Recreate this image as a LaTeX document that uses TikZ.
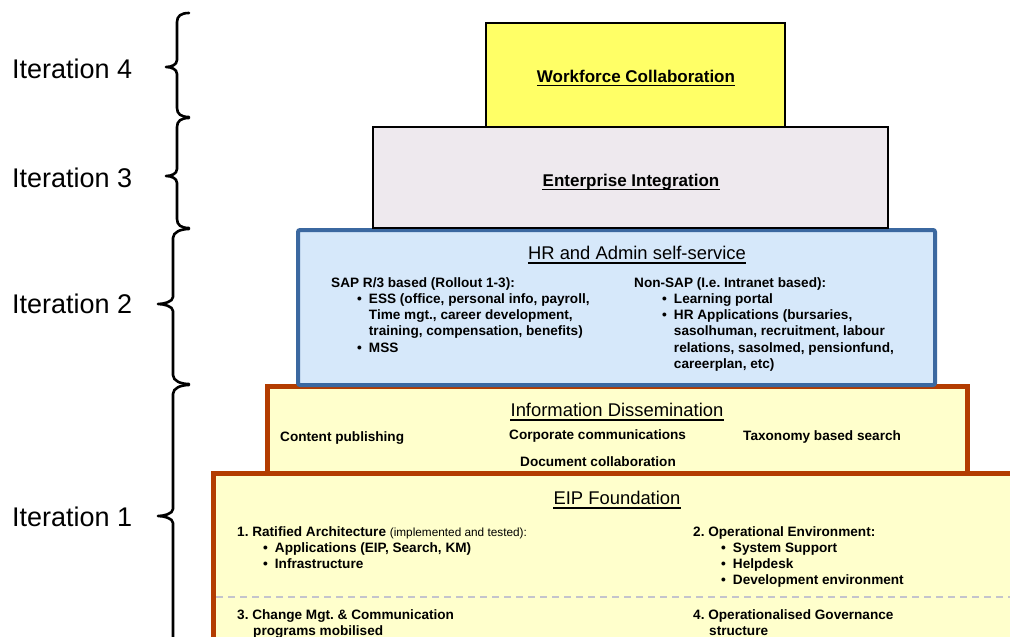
\documentclass[tikz,border=0pt]{standalone}
\usepackage{fontspec}
\setmainfont{Liberation Sans}
\usepackage{array}
\frenchspacing
\definecolor{wfyellow}{HTML}{FFFF66}
\definecolor{entgray}{HTML}{EEE9EE}
\definecolor{hrblue}{HTML}{D6E8FA}
\definecolor{hrborder}{HTML}{3B68A0}
\definecolor{eipfill}{HTML}{FFFFCC}
\definecolor{rust}{HTML}{B33C00}
\definecolor{dashgray}{HTML}{C4C4CC}
\newcommand\itbrace[5]{% vertical x, tip x, top y, tip y, bottom y
  \draw[bracestyle] (189,#3) .. controls (181,#3) and (#1,#3+3) .. (#1,#3+9)
    -- (#1,#4-7) .. controls (#1,#4-2) and (#2+5,#4) .. (#2,#4)
    .. controls (#2+5,#4) and (#1,#4+2) .. (#1,#4+7)
    -- (#1,#5-9) .. controls (#1,#5-3) and (181,#5) .. (189,#5);}
\tikzset{
  bracestyle/.style={line width=2.6pt, black, line cap=round, line join=round},
  iterlabel/.style={font=\fontsize{27}{31}\selectfont, anchor=west, inner sep=0pt},
  rtitle/.style={font=\fontsize{18.4}{22}\selectfont, anchor=base, inner sep=0pt},
  btitle/.style={font=\bfseries\fontsize{17}{20}\selectfont, anchor=base, inner sep=0pt},
  body/.style={font=\bfseries\fontsize{13.6}{16.3}\selectfont, anchor=base west, inner sep=0pt},
  uline/.style={line width=1.8pt, black},
  rustbox/.style={draw=rust, fill=eipfill, line width=5pt},
}
\begin{document}
\begin{tikzpicture}[x=1pt,y=-1pt]
\useasboundingbox (0,0) rectangle (1010,637);
\clip (0,0) rectangle (1010,637);

% boxes, back to front
\draw[rustbox] (213.5,473.5) rectangle (1025,660);
\draw[dashgray, line width=2pt, dash pattern=on 7pt off 5pt] (216,597) -- (1010,597);
\draw[rustbox] (267.5,386.5) rectangle (967.5,473.5);
\draw[draw=hrborder, fill=hrblue, line width=4pt, rounded corners=2pt] (298,230) rectangle (935,385);
\draw[draw=black, fill=entgray, line width=2.4pt] (373,127) rectangle (888,228);
\draw[draw=black, fill=wfyellow, line width=2.4pt] (486,23) rectangle (785,127);

% titles
\node[btitle] (wf) at (636,82) {Workforce Collaboration};
\node[btitle] (ei) at (631,186) {Enterprise Integration};
\node[rtitle] (hr) at (637,259.5) {HR and Admin self-service};
\node[rtitle] (id) at (617,416.5) {Information Dissemination};
\node[rtitle] (eip) at (617,504.5) {EIP Foundation};
\foreach \n in {wf,ei,hr,id,eip}
  \draw[uline] ([yshift=-3.5pt]\n.base west) -- ([yshift=-3.5pt]\n.base east);

% HR contents
\node[body] (hrL) at (331,287) {\begin{tabular}[t]{@{\hspace{26pt}}l@{\hspace{7pt}}l@{}}
\multicolumn{2}{@{}l@{}}{SAP R/3 based (Rollout 1-3):}\\
\textbullet & ESS (office, personal info, payroll,\\
 & Time mgt., career development,\\
 & training, compensation, benefits)\\
\textbullet & MSS
\end{tabular}};
\node[body] (hrR) at (634,287) {\begin{tabular}[t]{@{\hspace{28pt}}l@{\hspace{7pt}}l@{}}
\multicolumn{2}{@{}l@{}}{Non-SAP (I.e. Intranet based):}\\
\textbullet & Learning portal\\
\textbullet & HR Applications (bursaries,\\
 & sasolhuman, recruitment, labour\\
 & relations, sasolmed, pensionfund,\\
 & careerplan, etc)
\end{tabular}};

% Information Dissemination contents
\node[body] (cp) at (280,441) {Content publishing};
\node[body] (cc) at (509,439) {Corporate communications};
\node[body] (tx) at (743,440) {Taxonomy based search};
\node[body] (dc) at (520,466) {Document collaboration};

% EIP contents
\node[body] (e1) at (237,536) {\begin{tabular}[t]{@{\hspace{26pt}}l@{\hspace{7pt}}l@{}}
\multicolumn{2}{@{}l@{}}{1. Ratified Architecture {\mdseries\fontsize{11.8}{14}\selectfont (implemented and tested):}}\\
\textbullet & Applications (EIP, Search, KM)\\
\textbullet & Infrastructure
\end{tabular}};
\node[body] (e2) at (693,536) {\begin{tabular}[t]{@{\hspace{28pt}}l@{\hspace{7pt}}l@{}}
\multicolumn{2}{@{}l@{}}{2. Operational Environment:}\\
\textbullet & System Support\\
\textbullet & Helpdesk\\
\textbullet & Development environment
\end{tabular}};
\node[body] (e3) at (237,619) {\begin{tabular}[t]{@{}l@{}}
3. Change Mgt. \& Communication\\
\hspace{16pt}programs mobilised
\end{tabular}};
\node[body] (e4) at (693,619) {\begin{tabular}[t]{@{}l@{}}
4. Operationalised Governance\\
\hspace{16pt}structure
\end{tabular}};

% iteration labels and braces
\node[iterlabel] (it4) at (12,69) {Iteration 4};
\node[iterlabel] (it3) at (12,178) {Iteration 3};
\node[iterlabel] (it2) at (12,304) {Iteration 2};
\node[iterlabel] (it1) at (12,517) {Iteration 1};
\itbrace{177}{166}{13}{67}{117}
\itbrace{177}{166}{118}{176}{228}
\itbrace{173}{158}{229}{304}{384}
\itbrace{173}{158}{385}{516}{700}
\end{tikzpicture}
\end{document}
